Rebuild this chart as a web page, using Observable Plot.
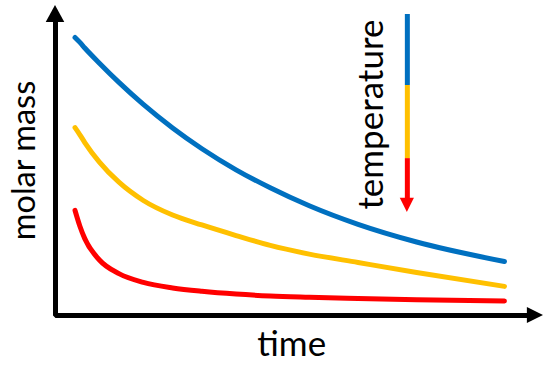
<!DOCTYPE html>
<html>
<head>
<meta charset="utf-8">
<script src="https://cdn.jsdelivr.net/npm/d3@7"></script>
<script src="https://cdn.jsdelivr.net/npm/@observablehq/plot@0.6"></script>
<style>
  html, body { margin: 0; padding: 0; background: #fff; }
  #chart svg { display: block; }
</style>
</head>
<body>
<div id="chart"></div>
<script>
// Time (arbitrary units) and molar mass (arbitrary units)
const time   = [4, 5, 6, 9, 13, 18, 24, 30, 37, 44, 52, 62, 74, 92];
const blue   = [89.7, 88.1, 86.3, 81.4, 75.2, 68.1, 60.5, 53.8, 47.0, 41.2, 35.4, 29.4, 23.7, 17.4];
const yellow = [60.6, 58.3, 55.8, 49.5, 43.0, 37.1, 32.4, 29.2, 25.8, 22.6, 19.8, 17.1, 13.9, 9.4];
const red    = [33.9, 28.8, 24.8, 17.9, 13.5, 10.7, 8.9, 7.8, 6.9, 6.3, 5.9, 5.5, 5.1, 4.7];

const seriesNames  = ["high", "medium", "low"];
const seriesColors = ["#0070C0", "#FFC000", "#FF0000"];
const seriesValues = [blue, yellow, red];

// temperature indicator: colour bands from top (cold) to bottom (hot)
const tempBandColors = ["#0070C0", "#FFC000", "#FF0000"];
const tempBandTop    = [97.1, 74.2, 50.6];
const tempBandBottom = [74.2, 50.6, 37.4];

const labels = { x: "time", y: "molar mass", temp: "temperature" };

const rows = [];
seriesNames.forEach((s, i) => time.forEach((t, j) => rows.push({series: s, t, m: seriesValues[i][j]})));

const bands = tempBandColors.map((c, i) => ({c, y1: tempBandTop[i], y2: tempBandBottom[i]}));

const font = "Lato, 'Open Sans', sans-serif";
const TX = 72.1; // temperature bar position (data units)

const plot = Plot.plot({
  width: 550,
  height: 367,
  marginLeft: 55,
  marginRight: 7,
  marginTop: 5,
  marginBottom: 52,
  x: {domain: [0, 100], axis: null},
  y: {domain: [0, 100], axis: null},
  color: {domain: seriesNames, range: seriesColors},
  style: {fontFamily: font, background: "white"},
  marks: [
    // curves
    Plot.line(rows, {x: "t", y: "m", z: "series", stroke: "series", strokeWidth: 5, curve: "monotone-x"}),
    // axes (L shape)
    Plot.line([{x: 0, y: 95}, {x: 0, y: 0}, {x: 96.5, y: 0}], {x: "x", y: "y", stroke: "black", strokeWidth: 5, strokeLinejoin: "miter", curve: "linear"}),
    // y arrow head
    Plot.areaX([{y: 94.5, a: -1.9, b: 1.9}, {y: 100, a: 0, b: 0}], {y: "y", x1: "a", x2: "b", fill: "black", curve: "linear"}),
    // x arrow head
    Plot.areaY([{x: 96.7, a: -2.6, b: 2.6}, {x: 100, a: 0, b: 0}], {x: "x", y1: "a", y2: "b", fill: "black", curve: "linear"}),
    // temperature bar
    Plot.ruleX(bands, {x: TX, y1: "y1", y2: "y2", stroke: "c", strokeWidth: 5}),
    Plot.areaX([{y: 37.8, a: TX - 1.45, b: TX + 1.45}, {y: 33.2, a: TX, b: TX}], {y: "y", x1: "a", x2: "b", fill: "#FF0000", curve: "linear"}),
    // labels
    Plot.text([labels.temp], {x: 64.9, y: 64.8, text: d => d, rotate: -90, fontSize: 35, fill: "black"}),
    Plot.text([labels.y], {x: -6.4, y: 50, text: d => d, rotate: -90, fontSize: 32.5, fill: "black"}),
    Plot.text([labels.x], {x: 48.4, y: -9.6, text: d => d, fontSize: 35, fill: "black"})
  ]
});
document.getElementById("chart").appendChild(plot);
</script>
</body>
</html>
